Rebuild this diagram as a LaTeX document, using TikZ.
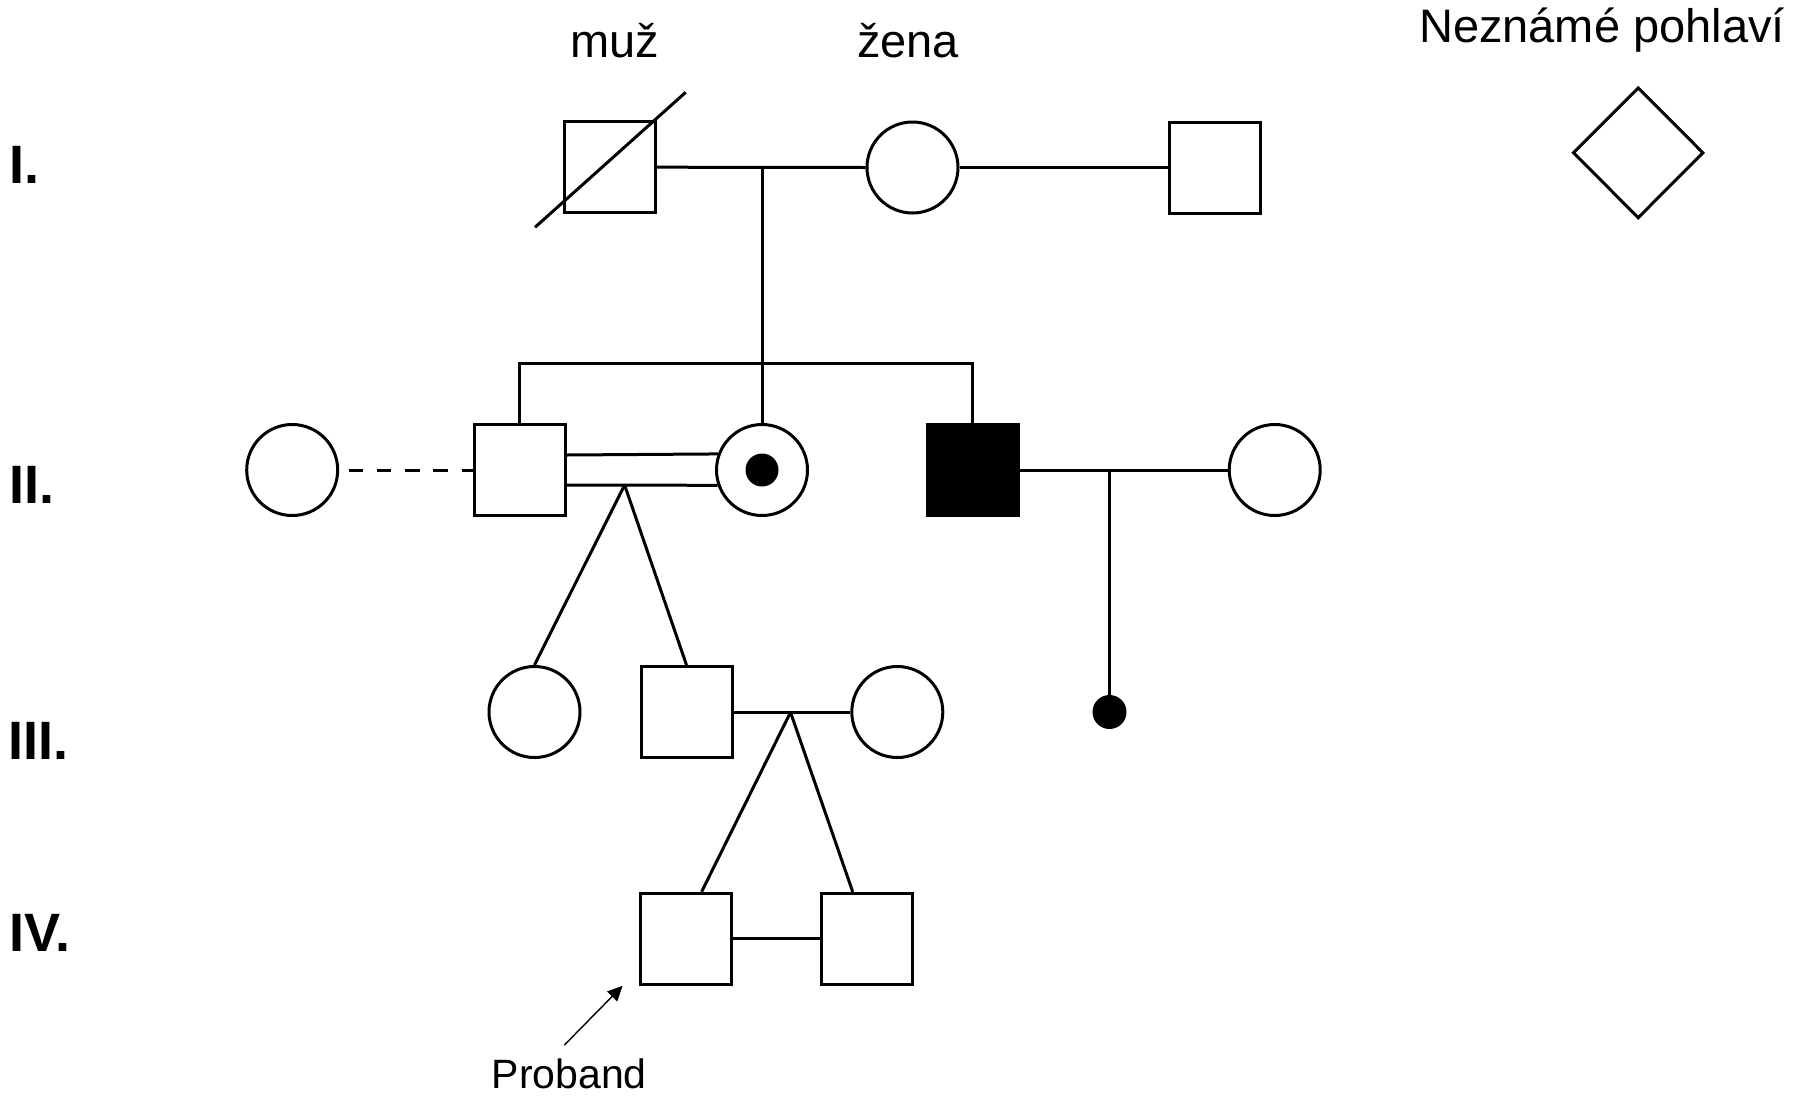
\documentclass[tikz,border=0pt]{standalone}
\usepackage{fontspec}
\setmainfont{Liberation Sans}
\usetikzlibrary{shapes.geometric,calc,arrows.meta}
\begin{document}
\begin{tikzpicture}[x=0.5pt,y=-0.5pt,
  ln/.style={line width=1.5pt},
  male/.style={draw,rectangle,minimum size=45.5pt,inner sep=0pt,line width=1.5pt},
  female/.style={draw,circle,minimum size=45.5pt,inner sep=0pt,line width=1.5pt},
  unk/.style={draw,diamond,minimum width=65.3pt,minimum height=65.5pt,inner sep=0pt,line width=1.5pt},
  dotnode/.style={circle,fill=black,minimum size=17pt,inner sep=0pt},
  lbl/.style={font=\fontsize{23.5}{28}\selectfont,anchor=base,inner sep=0pt},
  gen/.style={font=\fontsize{27}{32}\selectfont\bfseries,anchor=base west,inner sep=0pt},
  problbl/.style={font=\fontsize{20.5}{24}\selectfont,anchor=base,inner sep=0pt},
  arr/.style={line width=0.7pt,-{Triangle[length=7.5pt,width=7pt]}},
  ]
\useasboundingbox (0,0) rectangle (1813,1098);

% labels
\node[lbl] (tmuz) at (614.5,57.3) {muž};
\node[lbl] (tzena) at (908,57.3) {žena};
\node[lbl] (tunk) at (1602,42.7) {Neznámé pohlaví};
\node[gen] (g1) at (9,183.3) {I.};
\node[gen] (g2) at (9,503.3) {II.};
\node[gen] (g3) at (8,759.3) {III.};
\node[gen] (g4) at (9,951.7) {IV.};
\node[problbl] (prob) at (569.2,1088.3) {Proband};

% generation I
\node[male] (I1) at (609.5,167.2) {};
\node[female] (I2) at (912.5,167.5) {};
\node[male] (I3) at (1215,167.5) {};
\node[unk] (U) at (1638.2,152.8) {};
\draw[ln] ($(I1.center)+(-74.5,60.1)$) -- ($(I1.center)+(76.2,-74.9)$);

% generation II
\node[female] (II1) at (292.2,470) {};
\node[male] (II2) at (519.5,470) {};
\node[female] (II3) at (762,470) {};
\node[dotnode,minimum size=16.5pt] (II3d) at (II3.center) {};
\node[male,fill=black] (II4) at (972.8,470) {};
\node[female] (II5) at (1274.7,470) {};

% generation III
\node[female] (III1) at (534.5,712) {};
\node[male] (III2) at (686.5,712) {};
\node[female] (III3) at (897.3,712) {};
\node[dotnode] (III4) at (1109.5,712) {};

% generation IV
\node[male] (IV1) at (685.6,938.8) {};
\node[male] (IV2) at (867.3,938.8) {};

% coordinates
\coordinate (m1) at (762,167.3);
\coordinate (sl) at (519.5,363.3);
\coordinate (sr) at (972.8,363.3);
\coordinate (c2) at (624.6,485);
\coordinate (c4) at (1109.5,470);
\coordinate (c3) at (790.5,712.3);
\coordinate (pt) at (564.4,1045);

% connectors
\draw[ln] (I1.east) -- (I2.west);
\draw[ln] (I2.east) -- (I3.west);
\draw[ln] (m1) -- (II3.north);
\draw[ln] (II2.north) -- (sl) -- (sr) -- (II4.north);
\draw[ln,dash pattern=on 7.2pt off 6.9pt,dash phase=9.3pt] (II1.east) -- (II2.west);
\draw[ln] ([yshift=7.5pt]II2.east) -- (II3.160.75);
\draw[ln] ([yshift=-7.5pt]II2.east) -- (II3.199.25);
\draw[ln] (II4.east) -- (II5.west);
\draw[ln] (c4) -- (III4.center);
\draw[ln] (c2) -- (III1.north);
\draw[ln] (c2) -- (III2.north);
\draw[ln] (III2.east) -- (III3.west);
\draw[ln] (c3) -- ([xshift=8pt]IV1.north);
\draw[ln] (c3) -- ([xshift=-7.3pt]IV2.north);
\draw[ln] (IV1.east) -- (IV2.west);
\draw[arr] (pt) -- ([xshift=-8pt]IV1.south west);
\end{tikzpicture}
\end{document}
